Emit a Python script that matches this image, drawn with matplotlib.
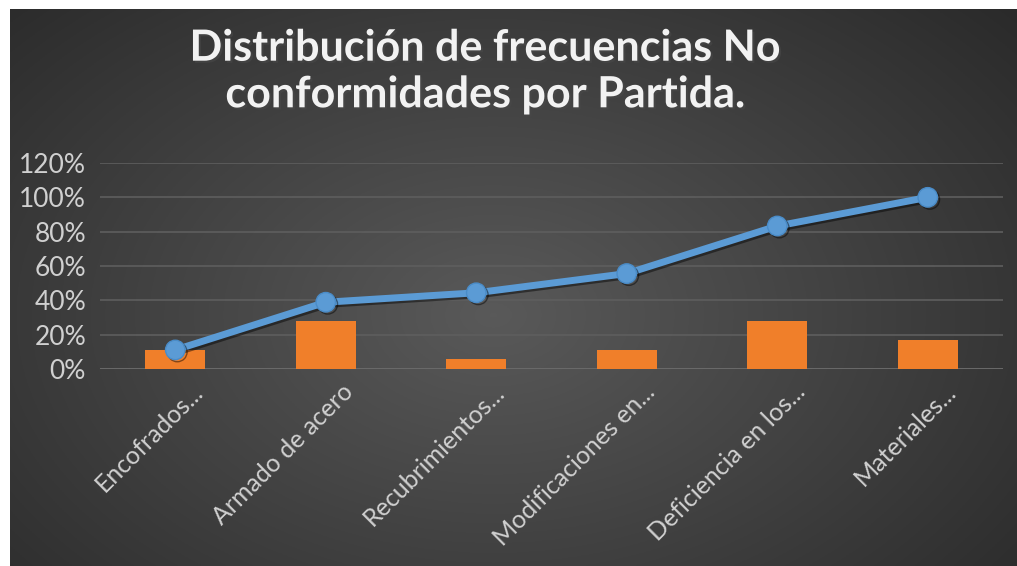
import numpy as np
import matplotlib.pyplot as plt
import matplotlib.patheffects as pe
from matplotlib.ticker import PercentFormatter
from matplotlib.transforms import ScaledTranslation

# datos
categorias = ['Encofrados...', 'Armado de acero', 'Recubrimientos...',
              'Modificaciones en...', 'Deficiencia en los...', 'Materiales...']
frecuencia = [0.111, 0.278, 0.056, 0.111, 0.278, 0.167]
acumulado = [0.111, 0.389, 0.444, 0.556, 0.833, 1.0]
yticks = [0, 0.2, 0.4, 0.6, 0.8, 1.0, 1.2]
titulo = 'Distribución de frecuencias No\nconformidades por Partida.'

W, H = 1017, 566
fig = plt.figure(figsize=(W / 100, H / 100), dpi=100, facecolor='white')

# fondo con degradado radial
bg = fig.add_axes([10 / W, 0, (W - 10) / W, (H - 9) / H], zorder=0)
yy, xx = np.mgrid[0:1:300j, 0:1:600j]
r = np.sqrt(((xx - 0.48) / 0.75) ** 2 + ((yy - 0.55) / 0.9) ** 2)
r = np.clip(r, 0, 1)
c = 0.35 - 0.20 * r
bg.imshow(np.dstack([c, c, c]), aspect='auto', extent=[0, 1, 0, 1])
bg.axis('off')

ax = fig.add_axes([100 / W, (H - 369) / H, 903 / W, 206 / H], zorder=1)
ax.patch.set_alpha(0)
x = np.arange(len(categorias))

ax.bar(x, frecuencia, width=0.4, color='#f07f2a', zorder=2)
ax.plot(x, acumulado, color='#5b9bd5', lw=5, marker='o', ms=14,
        markerfacecolor='#5b9bd5', markeredgecolor='#4a8cc8', zorder=3,
        path_effects=[pe.SimpleLineShadow(offset=(1.5, -1.5), shadow_color='black', alpha=0.45),
                      pe.Normal()])

ax.set_xlim(-0.5, len(categorias) - 0.5)
ax.set_ylim(0, 1.2)
ax.set_yticks(yticks)
ax.yaxis.set_major_formatter(PercentFormatter(1.0, decimals=0))
ax.grid(axis='y', color='#5e5e5e', lw=1.2, zorder=0)
ax.axhline(0, color='#bfbfbf', lw=1.8, zorder=1)
for s in ax.spines.values():
    s.set_visible(False)
ax.tick_params(length=0)
ax.tick_params(axis='y', labelsize=19, labelcolor='#d0d0d0', pad=10)
ax.set_xticks(x)
ax.set_xticklabels(categorias, rotation=45, ha='right', rotation_mode='anchor',
                   fontsize=18, color='#d0d0d0')
ax.tick_params(axis='x', pad=8)
desplazar = ScaledTranslation(0.16, 0, fig.dpi_scale_trans)
for lab in ax.get_xticklabels():
    lab.set_transform(lab.get_transform() + desplazar)
for lab in ax.get_yticklabels() + ax.get_xticklabels():
    lab.set_family('Lato')

fig.text(485 / W, 1 - 71 / H, titulo, ha='center', va='center', fontsize=31,
         fontweight='bold', family='Lato', color='#f2f2f2', linespacing=1.2,
         path_effects=[pe.withSimplePatchShadow(offset=(1.5, -1.5), alpha=0.6)])

fig.savefig('out.png', dpi=100, facecolor='white')
